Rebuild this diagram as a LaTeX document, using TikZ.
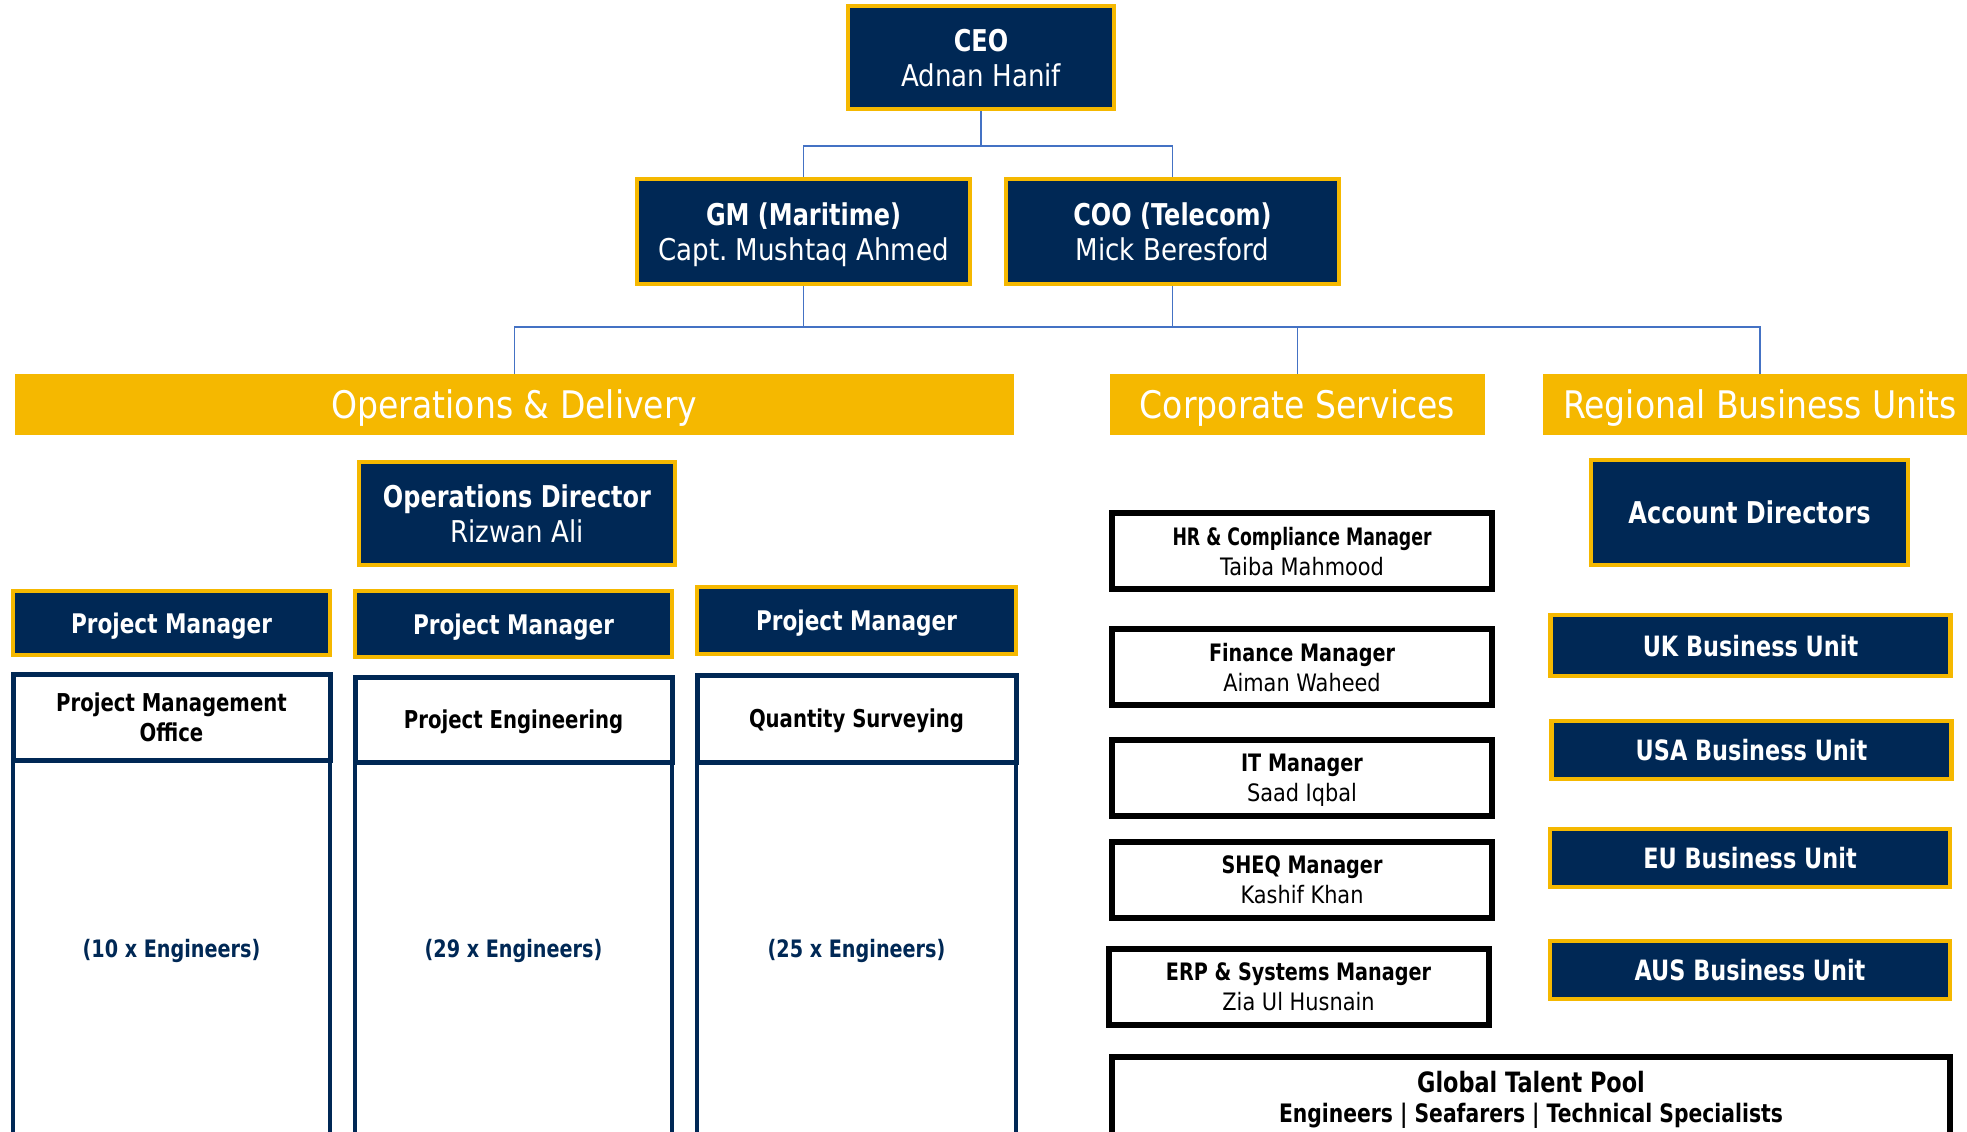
\documentclass[tikz,border=0pt]{standalone}
\usepackage{fontspec}
\setmainfont{DejaVu Sans}[FakeStretch=0.87, BoldFeatures={FakeStretch=0.8}]
\usetikzlibrary{positioning}

\definecolor{navy}{HTML}{002855}
\definecolor{gold}{HTML}{F5B800}
\definecolor{linkblue}{HTML}{4472C4}

\tikzset{
	execbox/.style={draw=gold, line width=2.2pt, fill=navy, text=white, align=center, inner sep=0pt, text depth=0pt, font=\fontsize{15}{17.5}\selectfont},
	pmbox/.style={execbox, font=\bfseries\fontsize{13.5}{15}\selectfont},
	unitbox/.style={execbox, minimum width=200pt, minimum height=29pt, font=\bfseries\fontsize{14}{16}\selectfont},
	headbar/.style={fill=gold, text=white, inner sep=0pt, minimum height=30.5pt, text depth=0.5pt, font=\fontsize{19}{22}\selectfont},
	deptbox/.style={draw=navy, line width=2.5pt, fill=white, align=center, inner sep=0pt, text depth=0pt, minimum width=158.5pt, minimum height=43pt, font=\bfseries\fontsize{12.3}{15}\selectfont},
	teambox/.style={draw=navy, line width=1.75pt, inner sep=0pt, text depth=0pt, minimum width=158.5pt, minimum height=188pt, text=navy, font=\bfseries\fontsize{12}{15}\selectfont},
	corpbox/.style={draw=black, line width=3pt, fill=white, align=center, inner sep=0pt, text depth=0pt, minimum width=190pt, minimum height=38pt, font=\fontsize{12}{15}\selectfont},
	link/.style={draw=linkblue, line width=0.8pt}
}

\begin{document}
\begin{tikzpicture}[x=0.5pt,y=-0.5pt]
	\useasboundingbox (0,0) rectangle (1967,1131);

	\node[execbox, minimum width=133pt, minimum height=51.5pt] (ceo) at (981,57.5) {\textbf{CEO}\\Adnan Hanif};
	\node[execbox, minimum width=166.5pt, minimum height=52.5pt] (gm) at (803.5,231.5) {\textbf{GM (Maritime)}\\Capt.\ Mushtaq Ahmed};
	\node[execbox, minimum width=166.5pt, minimum height=52.5pt] (coo) at (1172.5,231.5) {\textbf{COO (Telecom)}\\Mick Beresford};

	\node[headbar, minimum width=499.5pt] (ops) at (514.5,404.5) {Operations \& Delivery};
	\node[headbar, minimum width=187.5pt] (corp) at (1297.5,404.5) {Corporate Services};
	\node[headbar, minimum width=217pt] (rbu) at (1760,404.5) {Regional Business Units};

	\coordinate (split) at (803.5,327);
	\draw[link] (ceo.south) -- ++(0,35) -| (gm.north);
	\draw[link] (ceo.south) -- ++(0,35) -| (coo.north);
	\draw[link] (gm.south) -- (split);
	\draw[link] (coo.south) -- (coo.south |- split);
	\draw[link] (split) -| (ops.north);
	\draw[link] (split) -| (corp.north);
	\draw[link] (split) -| (rbu.north);

	\node[execbox, minimum width=158pt, minimum height=51.5pt] (opsdir) at (517,513.5) {\textbf{Operations Director}\\Rizwan Ali};

	\node[pmbox, minimum width=158.5pt, minimum height=32pt] (pm1) at (171.5,623) {Project Manager};
	\node[pmbox, minimum width=158.5pt, minimum height=33pt] (pm2) at (513.5,624) {Project Manager};
	\node[pmbox, minimum width=159.5pt, minimum height=33.5pt] (pm3) at (856.5,620.5) {Project Manager};

	\node[teambox] (team1) at (171.5,948) {(10 x Engineers)};
	\node[teambox] (team2) at (513.5,948) {(29 x Engineers)};
	\node[teambox, minimum width=159.5pt] (team3) at (856.5,948) {(25 x Engineers)};

	\node[deptbox] (pmo) at (171.5,717) {Project Management\\Office};
	\node[deptbox, minimum height=42.5pt] (peng) at (513.5,719.5) {Project Engineering};
	\node[deptbox, minimum width=159.5pt, minimum height=43.5pt] (qs) at (856.5,718.5) {Quantity Surveying};

	\node[corpbox] (hr) at (1302,551) {\textbf{\scalebox{0.9}[1]{HR \& Compliance Manager}}\\Taiba Mahmood};
	\node[corpbox] (fin) at (1302,667) {\textbf{Finance Manager}\\Aiman Waheed};
	\node[corpbox] (it) at (1302,778) {\textbf{IT Manager}\\Saad Iqbal};
	\node[corpbox] (sheq) at (1302,880) {\textbf{SHEQ Manager}\\Kashif Khan};
	\node[corpbox] (erp) at (1298.5,987) {\textbf{ERP \& Systems Manager}\\Zia Ul Husnain};
	\node[corpbox, minimum width=419pt, minimum height=40pt, font=\bfseries\fontsize{12.7}{15}\selectfont] (pool) at (1531,1097) {\fontsize{14}{15}\selectfont Global Talent Pool\\Engineers | Seafarers | Technical Specialists};

	\node[execbox, minimum width=158.5pt, minimum height=52.5pt, font=\bfseries\fontsize{15}{17.5}\selectfont] (acct) at (1749.5,512.5) {Account Directors};
	\node[unitbox, minimum height=30.5pt] (uk) at (1750.5,645.5) {UK Business Unit};
	\node[unitbox] (usa) at (1751.5,750) {USA Business Unit};
	\node[unitbox] (eu) at (1750,858) {EU Business Unit};
	\node[unitbox] (aus) at (1750,970) {AUS Business Unit};
\end{tikzpicture}
\end{document}
